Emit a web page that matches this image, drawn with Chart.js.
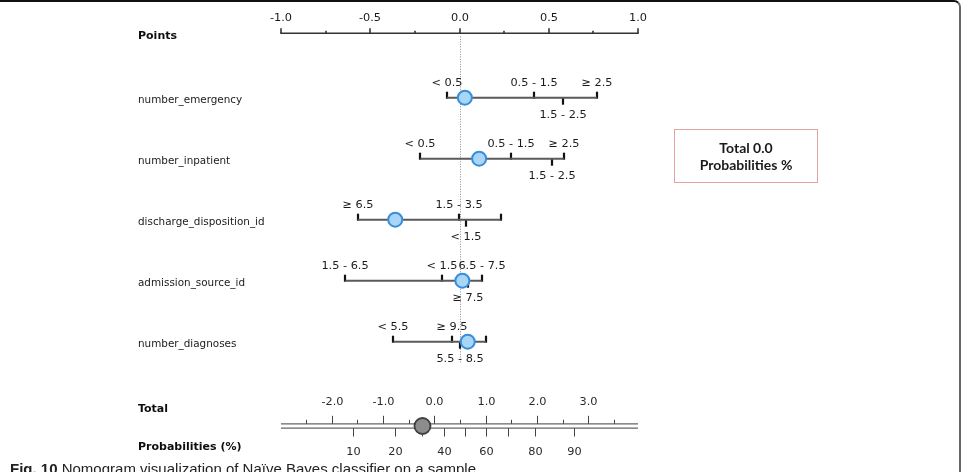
<!DOCTYPE html>
<html><head><meta charset="utf-8">
<script src="https://cdn.jsdelivr.net/npm/chart.js@4"></script>
<style>
html,body{margin:0;padding:0;background:#fff;}
#wrap{position:relative;width:962px;height:472px;overflow:hidden;background:#fff;}
#frame{position:absolute;left:0;top:0;width:961px;height:490px;border-top:2px solid #111;border-right:2px solid #666;border-top-right-radius:7px;box-sizing:border-box;pointer-events:none;}
canvas{position:absolute;left:0;top:0;}
#box{position:absolute;left:674px;top:129px;width:144px;height:54px;box-sizing:border-box;border:1px solid #e3a3a3;display:flex;flex-direction:column;justify-content:center;align-items:center;font:bold 14px Lato,"Liberation Sans",sans-serif;color:#1a1a1a;line-height:17.5px;}
#cap{position:absolute;left:10px;top:460px;font:15px "Liberation Sans",Arial,sans-serif;line-height:17px;color:#222;white-space:nowrap;}
</style></head><body>
<div id="wrap">
<canvas id="c" width="962" height="472"></canvas>
<div id="box"><div>Total 0.0</div><div>Probabilities %</div></div>
<div id="cap"><b>Fig. 10</b> Nomogram visualization of Naïve Bayes classifier on a sample</div>
<div id="frame"></div>
</div>
<script>
// ---------------- data ----------------
const features = ['number_emergency','number_inpatient','discharge_disposition_id','admission_source_id','number_diagnoses'];
const levelLabels = [
  ['< 0.5','0.5 - 1.5','1.5 - 2.5','\u2265 2.5'],
  ['< 0.5','0.5 - 1.5','1.5 - 2.5','\u2265 2.5'],
  ['\u2265 6.5','1.5 - 3.5','< 1.5',''],
  ['1.5 - 6.5','< 1.5','\u2265 7.5','6.5 - 7.5'],
  ['< 5.5','\u2265 9.5','5.5 - 8.5','']
];
const levelPoints = [
  [-0.07, 0.42, 0.58, 0.77],
  [-0.22, 0.29, 0.52, 0.585],
  [-0.57, -0.004, 0.036, 0.23],
  [-0.64, -0.10, 0.048, 0.124],
  [-0.37, -0.042, 0.003, 0.148]
];
const currentPoints = [0.03, 0.11, -0.36, 0.016, 0.046];
const pointsTicks = [-1, -0.75, -0.5, -0.25, 0, 0.25, 0.5, 0.75, 1];
const totalTicks = [-2.5, -2, -1.5, -1, -0.5, 0, 0.5, 1, 1.5, 2, 2.5, 3, 3.5];
const probTicks = [10, 20, 30, 40, 50, 60, 70, 80, 90];
const probTickTotals = [-1.58, -0.76, -0.24, 0.19, 0.60, 1.01, 1.44, 1.97, 2.73];
const probShown = [10, 20, 40, 60, 80, 90];
const totalScore = -0.23;

// ---------------- layout (not data) ----------------
const labelBelow = [[0,0,1,0],[0,0,1,0],[0,0,1,0],[0,0,1,0],[0,0,1,0]];
const pointsAxisRow = -0.055;
const totalAxisRow = 6.382;
const leftX = 138;
const FONT = '"DejaVu Sans", Verdana, sans-serif';

const nomo = {
  id: 'nomo',
  beforeDatasetsDraw(chart) {
    const ctx = chart.ctx;
    const x = chart.scales.x, xt = chart.scales.xt, y = chart.scales.y;
    ctx.save();
    ctx.lineCap = 'butt';
    // ---- left titles
    ctx.fillStyle = '#0d0d0d';
    ctx.textAlign = 'left';
    ctx.textBaseline = 'middle';
    const pa = y.getPixelForValue(pointsAxisRow);
    const ta = y.getPixelForValue(totalAxisRow);
    ctx.font = 'bold 11px ' + FONT;
    ctx.fillText('Points', leftX, pa + 3);
    ctx.fillText('Total', leftX, ta - 17);
    ctx.fillText('Probabilities (%)', leftX, ta + 21);
    ctx.font = '10.4px ' + FONT;
    ctx.fillStyle = '#1a1a1a';
    features.forEach((f, i) => ctx.fillText(f, leftX, y.getPixelForValue(i + 1) + 2.5));

    // ---- points axis
    ctx.strokeStyle = '#333';
    ctx.lineWidth = 1.5;
    ctx.beginPath();
    ctx.moveTo(x.getPixelForValue(-1) - 0.75, pa);
    ctx.lineTo(x.getPixelForValue(1) + 0.75, pa);
    ctx.stroke();
    ctx.font = '11.3px ' + FONT;
    ctx.textAlign = 'center';
    ctx.fillStyle = '#1a1a1a';
    pointsTicks.forEach(v => {
      const px = Math.round(x.getPixelForValue(v));
      const major = Math.abs(v * 2 - Math.round(v * 2)) < 1e-6;
      ctx.lineWidth = 1.6;
      ctx.beginPath();
      ctx.moveTo(px, pa);
      ctx.lineTo(px, pa - (major ? 5 : 2.5));
      ctx.stroke();
      if (major) ctx.fillText(v.toFixed(1), px, pa - 15);
    });

    // ---- dotted zero line
    ctx.strokeStyle = '#8a8a8a';
    ctx.lineWidth = 1;
    ctx.setLineDash([1, 1.5]);
    const zx = Math.round(x.getPixelForValue(0)) + 0.5;
    ctx.beginPath();
    ctx.moveTo(zx, pa + 3);
    ctx.lineTo(zx, y.getPixelForValue(5) + 22);
    ctx.stroke();
    ctx.setLineDash([]);

    // ---- feature ticks & labels
    ctx.font = '11.3px ' + FONT;
    ctx.fillStyle = '#1a1a1a';
    ctx.strokeStyle = '#111';
    levelPoints.forEach((row, i) => {
      const py = y.getPixelForValue(i + 1);
      row.forEach((v, j) => {
        const px = Math.round(x.getPixelForValue(v));
        const below = labelBelow[i][j];
        ctx.lineWidth = 2.2;
        ctx.beginPath();
        if (below) { ctx.moveTo(px, py); ctx.lineTo(px, py + 7); }
        else { ctx.moveTo(px, py + 1); ctx.lineTo(px, py - 6); }
        ctx.stroke();
        const lab = levelLabels[i][j];
        if (lab) ctx.fillText(lab, px, below ? py + 17.5 : py - 14.5);
      });
    });

    // ---- total axis (double line)
    ctx.strokeStyle = '#666';
    ctx.lineWidth = 1.3;
    [-2.2, 2.2].forEach(d => {
      ctx.beginPath();
      ctx.moveTo(xt.getPixelForValue(xt.min), ta + d);
      ctx.lineTo(xt.getPixelForValue(xt.max), ta + d);
      ctx.stroke();
    });
    ctx.strokeStyle = '#444';
    ctx.fillStyle = '#2a2a2a';
    totalTicks.forEach(v => {
      const px = Math.round(xt.getPixelForValue(v)) + 0.5;
      const major = Math.abs(v - Math.round(v)) < 1e-6;
      ctx.lineWidth = 1;
      ctx.beginPath();
      ctx.moveTo(px, ta - 2.2);
      ctx.lineTo(px, ta - 2.2 - (major ? 8 : 4));
      ctx.stroke();
      if (major) ctx.fillText(v.toFixed(1), px, ta - 23.5);
    });
    probTicks.forEach((p, k) => {
      const px = Math.round(xt.getPixelForValue(probTickTotals[k])) + 0.5;
      ctx.lineWidth = 1;
      ctx.beginPath();
      ctx.moveTo(px, ta + 2.2);
      ctx.lineTo(px, ta + 10.5);
      ctx.stroke();
      if (probShown.includes(p)) ctx.fillText(String(p), px, ta + 26);
    });
    ctx.restore();
  }
};

const datasets = [];
datasets.push({
  type: 'scatter', label: 'current', order: 0, xAxisID: 'x', yAxisID: 'y',
  data: currentPoints.map((v, i) => ({x: v, y: i + 1})),
  pointRadius: 7, pointBackgroundColor: '#a7d6f8', pointBorderColor: '#3a8ddb', pointBorderWidth: 2
});
datasets.push({
  type: 'scatter', label: 'total', order: 0, xAxisID: 'xt', yAxisID: 'y',
  data: [{x: totalScore, y: totalAxisRow}],
  pointRadius: 8, pointBackgroundColor: '#8c8c8c', pointBorderColor: '#3f3f3f', pointBorderWidth: 1.8
});
levelPoints.forEach((row, i) => {
  datasets.push({
    type: 'line', label: features[i], order: 5, xAxisID: 'x', yAxisID: 'y',
    data: [{x: Math.min(...row), y: i + 1}, {x: Math.max(...row), y: i + 1}],
    borderColor: '#5a5a5a', borderWidth: 2, pointRadius: 0, tension: 0
  });
});

new Chart(document.getElementById('c'), {
  type: 'scatter',
  data: {datasets},
  options: {
    responsive: false,
    animation: false,
    devicePixelRatio: 1,
    events: [],
    layout: {autoPadding: false, padding: {left: 281, right: 324, top: 0, bottom: 0}},
    plugins: {legend: {display: false}, tooltip: {enabled: false}},
    scales: {
      x: {type: 'linear', min: -1, max: 1, display: false},
      xt: {type: 'linear', min: -2.988, max: 3.971, display: false},
      y: {type: 'linear', min: -0.6016, max: 7.136, reverse: true, display: false}
    }
  },
  plugins: [nomo]
});
</script>
</body></html>
